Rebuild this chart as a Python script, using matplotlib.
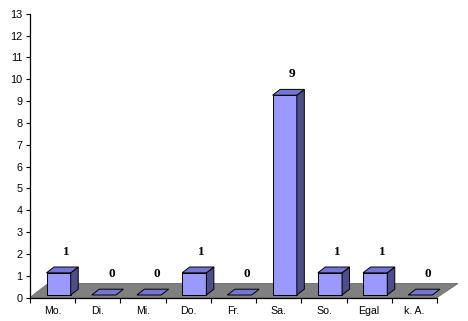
import matplotlib
matplotlib.use("Agg")
import matplotlib.pyplot as plt
from matplotlib.patches import Polygon
import numpy as np

categories = ["Mo.", "Di.", "Mi.", "Do.", "Fr.", "Sa.", "So.", "Egal", "k. A."]
values = [1, 0, 0, 1, 0, 9, 1, 1, 0]
y_ticks = list(range(0, 14))

W, H = 468, 321
DPI = 100
fig = plt.figure(figsize=(W / DPI, H / DPI), dpi=DPI)
fig.patch.set_facecolor("white")

# pixel geometry of the plot frame
x0_px, x1_px = 30.0, 437.0
y0_px, ytop_px = 297.5, 13.7
n = len(categories)

ax = fig.add_axes([x0_px / W, (H - y0_px) / H, (x1_px - x0_px) / W, (y0_px - ytop_px) / H])
ax.set_xlim(0, n)
ax.set_ylim(0, 13)
ax.set_facecolor("none")
for s in ["top", "right"]:
    ax.spines[s].set_visible(False)
ax.spines["left"].set_linewidth(0.9)
ax.spines["bottom"].set_linewidth(0.9)
ax.set_yticks(y_ticks)
ax.set_yticklabels([str(t) for t in y_ticks], fontsize=7.8, family="Liberation Sans")
ax.set_xticks(np.arange(0, n + 1))
ax.set_xticklabels([])
ax.set_xticks(np.arange(n) + 0.5, minor=True)
ax.set_xticklabels(categories, minor=True, fontsize=7.6, family="Liberation Sans")
ax.tick_params(axis="y", direction="out", length=3.2, width=0.8, pad=2)
ax.tick_params(axis="x", which="major", direction="out", length=3.6, width=0.8)
ax.tick_params(axis="x", which="minor", length=0, pad=6)

# floor (gray parallelogram) in axis units
ux = n / (x1_px - x0_px)
uy = 13 / (y0_px - ytop_px)
floor = Polygon([(0, 0), (n, 0), (n + 21 * ux, 14 * uy), (18 * ux, 14 * uy)],
                closed=True, facecolor="#808080", edgecolor="#6a6a6a", lw=0.6,
                clip_on=False, zorder=1)
ax.add_patch(floor)

# bars axes (back-plane scale)
bar_base_px = 295.0
unit_px = 22.2
ax2 = fig.add_axes([x0_px / W, (H - bar_base_px) / H, (x1_px - x0_px) / W, 13 * unit_px / H])
ax2.set_xlim(0, n)
ax2.set_ylim(0, 13)
ax2.axis("off")
ax2.patch.set_alpha(0)

dx = 7.5 * ux
dy = 5.8 / unit_px
bw = 24.2 * ux
off = -6.1 * ux
front_c = "#9999FF"
top_c = "#7575D6"
side_c = "#4D4D88"
for i, v in enumerate(values):
    left = i + 0.5 + off
    right = left + bw
    kw = dict(edgecolor="black", lw=0.7, clip_on=False, joinstyle="miter")
    if v > 0:
        ax2.add_patch(Polygon([(left, 0), (right, 0), (right, v), (left, v)], facecolor=front_c, **kw))
        ax2.add_patch(Polygon([(right, 0), (right + dx, dy), (right + dx, v + dy), (right, v)], facecolor=side_c, **kw))
        ax2.add_patch(Polygon([(left, v), (right, v), (right + dx, v + dy), (left + dx, v + dy)], facecolor=top_c, **kw))
    else:
        ax2.add_patch(Polygon([(left, 0), (right, 0), (right + dx, dy), (left + dx, dy)], facecolor=top_c, **kw))
    ax2.annotate(str(v), xy=((left + right) / 2 + dx, v + dy), xytext=(0, 15),
                 textcoords="offset pixels", ha="center", va="center",
                 fontsize=9.5, fontweight="bold", family="Liberation Serif", annotation_clip=False)

fig.savefig("out.png", dpi=DPI)
